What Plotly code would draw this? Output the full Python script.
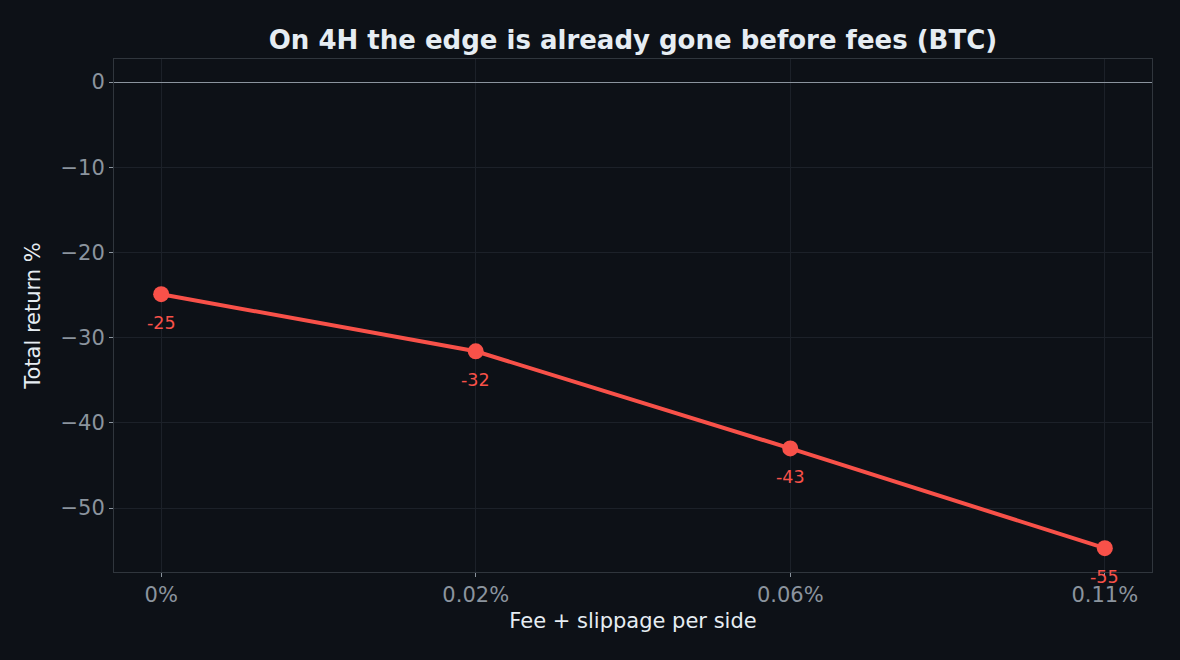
import plotly.graph_objects as go

# fee + slippage levels per side and resulting total return (%)
fee_labels = ["0%", "0.02%", "0.06%", "0.11%"]
total_return = [-24.9, -31.6, -43.0, -54.7]
point_labels = [f"{v:.0f}" for v in total_return]

BG = "#0d1117"
RED = "#f85149"
TXT = "#e6edf3"
MUTED = "#8b949e"
GRID = "#1c2129"
FONT = "DejaVu Sans"

fig = go.Figure()

fig.add_trace(go.Scatter(
    x=fee_labels,
    y=total_return,
    mode="lines+markers",
    line=dict(color=RED, width=4),
    marker=dict(color=RED, size=16),
    hoverinfo="x+y",
    showlegend=False,
))

# value labels under each point
for x, y, t in zip(fee_labels, total_return, point_labels):
    fig.add_annotation(
        x=x, y=y, text=t, showarrow=False,
        yshift=-29, font=dict(color=RED, size=17.5, family=FONT),
    )

fig.update_layout(
    width=1180,
    height=660,
    paper_bgcolor=BG,
    plot_bgcolor=BG,
    font=dict(family=FONT, color=TXT),
    margin=dict(l=114, r=28, t=59, b=88),
    title=dict(
        text="<b>On 4H the edge is already gone before fees (BTC)</b>",
        x=0.5364, xanchor="center", y=0.94, yanchor="middle",
        font=dict(size=26, color=TXT, family=FONT),
    ),
    xaxis=dict(
        type="category",
        range=[-0.15, 3.15],
        showgrid=True, gridcolor=GRID, gridwidth=1,
        zeroline=False,
        showline=True, linecolor="#30363d", mirror=True,
        ticks="outside", ticklen=4, tickcolor=MUTED,
        tickfont=dict(size=21, color=MUTED),
        title=dict(text="Fee + slippage per side", font=dict(size=21, color=TXT), standoff=7),
    ),
    yaxis=dict(
        range=[-57.5, 2.7],
        tickvals=[0, -10, -20, -30, -40, -50],
        ticktext=["0", "\u221210", "\u221220", "\u221230", "\u221240", "\u221250"],
        showgrid=True, gridcolor=GRID, gridwidth=1,
        zeroline=True, zerolinecolor="#8b949e", zerolinewidth=1.2,
        showline=True, linecolor="#30363d", mirror=True,
        ticks="outside", ticklen=4, tickcolor=MUTED,
        tickfont=dict(size=21, color=MUTED),
        title=dict(text="Total return %", font=dict(size=21, color=TXT), standoff=14),
    ),
)

fig.write_html(
    "out.html",
    config={"displayModeBar": False},
    post_script="document.body.style.margin='0';",
)
